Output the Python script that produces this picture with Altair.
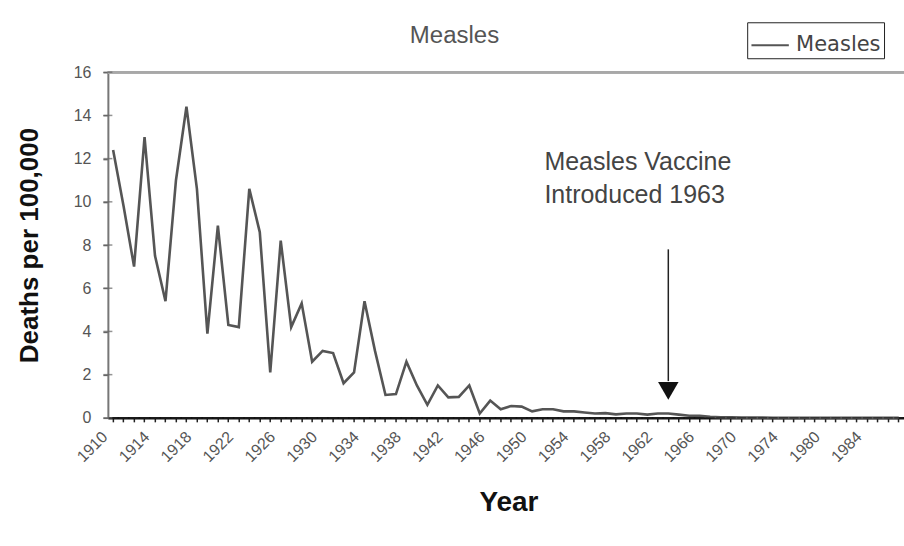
import altair as alt
import pandas as pd

# Measles death rate per 100,000 by year
years = list(range(1910, 1975)) + [1976, 1977, 1978, 1980, 1981, 1982, 1983,
                                   1984, 1985, 1986, 1987]
deaths = [
    12.4, 9.8, 7.0, 13.0, 7.5, 5.4, 11.0, 14.4, 10.6, 3.9,
    8.9, 4.3, 4.2, 10.6, 8.6, 2.1, 8.2, 4.2, 5.3, 2.6,
    3.1, 3.0, 1.6, 2.1, 5.4, 3.1, 1.06, 1.1, 2.6, 1.5,
    0.6, 1.5, 0.95, 0.97, 1.5, 0.2, 0.8, 0.4, 0.55, 0.52,
    0.3, 0.4, 0.4, 0.3, 0.3, 0.25, 0.2, 0.22, 0.16, 0.2,
    0.2, 0.15, 0.2, 0.2, 0.15, 0.1, 0.1, 0.05, 0.02, 0.02,
    0.01, 0.01, 0.01, 0.0, 0.0,
    0.0, 0.0, 0.0, 0.0, 0.0, 0.0, 0.0, 0.0, 0.0, 0.0, 0.0,
]
year_labels = ["1910", "1914", "1918", "1922", "1926", "1930", "1934", "1938",
               "1942", "1946", "1950", "1954", "1958", "1962", "1966", "1970",
               "1974", "1980", "1984"]
y_ticks = [0, 2, 4, 6, 8, 10, 12, 14, 16]

vaccine_year = "1963"
arrow_top, arrow_bottom, arrow_head = 7.8, 1.7, 1.25
note_lines = ["Measles Vaccine", "Introduced 1963"]

year_str = [str(y) for y in years]
df = pd.DataFrame({"Year": year_str, "Deaths": deaths, "Series": "Measles"})
arrow_df = pd.DataFrame({"Year": [vaccine_year], "top": [arrow_top],
                         "bottom": [arrow_bottom], "head": [arrow_head]})
yt_df = pd.DataFrame({"v": y_ticks})

FONT = "Liberation Sans"
W, H = 797, 346

label_list = "[" + ",".join("'%s'" % s for s in year_labels) + "]"
x_scale = alt.Scale(domain=year_str)

x_axis = alt.Axis(
    title="Year", titleFontSize=28, titleFontWeight="bold", titleColor="#111",
    titleFont=FONT, titleX=401, titleY=85, titleBaseline="middle",
    labelExpr="indexof(%s, datum.label) >= 0 ? datum.label : ''" % label_list,
    labelAngle=-45, labelAlign="right", labelBaseline="middle",
    labelFontSize=16, labelColor="#555", labelFont=FONT, labelOverlap=False,
    labelPadding=12, labelOffset=-8, labelFlush=False,
    tickSize=4, tickColor="#222", tickWidth=1.5,
    domainColor="#111", domainWidth=2.5, grid=False,
)
y_axis = alt.Axis(
    title="Deaths per 100,000", titleFontSize=26, titleFontWeight="bold",
    titleColor="#111", titleFont=FONT, titleX=-78, titleY=173,
    titleBaseline="middle", titleAngle=-90,
    values=y_ticks, labelFontSize=16, labelColor="#555", labelFont=FONT,
    labelPadding=12, tickSize=5, tickColor="#666", tickWidth=1.5,
    domainColor="#777", domainWidth=2, grid=False,
)

line = alt.Chart(df).mark_line(strokeWidth=2.6).encode(
    x=alt.X("Year:O", scale=x_scale, axis=x_axis),
    y=alt.Y("Deaths:Q", scale=alt.Scale(domain=[0, 16], nice=False), axis=y_axis),
    color=alt.Color("Series:N", scale=alt.Scale(range=["#555555"]),
                    legend=alt.Legend(
                        orient="none", legendX=640, legendY=-50, title=None,
                        symbolType="stroke", symbolSize=1400,
                        symbolStrokeWidth=2, symbolStrokeColor="#333",
                        labelFontSize=21, labelColor="#444",
                        labelFont="DejaVu Sans", labelOffset=6,
                        strokeColor="#222", padding=3)),
)

# inward half of the cross ticks on both axes
x_inner = alt.Chart(df).mark_tick(size=9, thickness=1.5, color="#222").encode(
    x=alt.X("Year:O", scale=x_scale), y=alt.datum(0))
y_inner = alt.Chart(yt_df).mark_tick(orient="horizontal", size=9, thickness=1.5,
                                     color="#666").encode(
    y=alt.Y("v:Q"), x=alt.value(0))

top_line = alt.Chart(yt_df).mark_rule(color="#a8a8a8", strokeWidth=2).encode(
    y=alt.datum(16))

arrow_shaft = alt.Chart(arrow_df).mark_rule(color="#222", strokeWidth=1.5).encode(
    x=alt.X("Year:O", scale=x_scale), y="top:Q", y2="bottom:Q")
arrow_tip = alt.Chart(arrow_df).mark_point(
    shape="triangle-down", filled=True, size=420, color="#111", opacity=1).encode(
    x=alt.X("Year:O", scale=x_scale), y="head:Q")

note = alt.Chart(arrow_df).mark_text(
    align="left", baseline="alphabetic", fontSize=25, font=FONT, color="#444",
    lineHeight=33).encode(
    x=alt.value(437), y=alt.value(98), text=alt.value(note_lines))

title = alt.Chart(arrow_df).mark_text(
    align="center", baseline="middle", fontSize=24, font=FONT, color="#555").encode(
    x=alt.value(347), y=alt.value(-36), text=alt.value("Measles"))

chart = alt.layer(top_line, line, x_inner, y_inner, arrow_shaft, arrow_tip,
                  note, title).properties(
    width=W, height=H,
    autosize=alt.AutoSizeParams(type="none"),
    padding={"left": 108, "top": 72, "right": 0, "bottom": 128},
).configure_view(stroke=None).configure(background="white")

chart.save("out.html", embed_options={"renderer": "svg", "actions": False})
